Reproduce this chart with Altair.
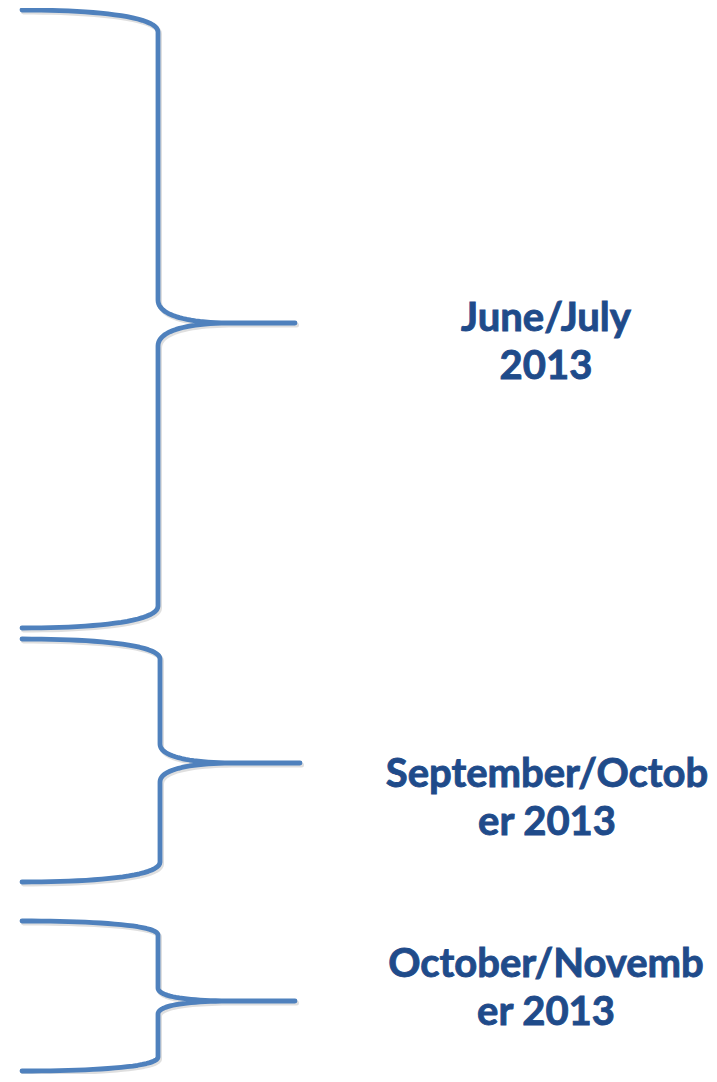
import altair as alt
import pandas as pd
import numpy as np

# Brace extents (image-pixel coordinate system of the reference)
brace_id = ["b1", "b2", "b3"]
brace_top = [10, 639, 921]
brace_tip = [323, 763, 1001]
brace_bottom = [628, 882, 1071]
end_bend = [22, 20, 14]
tip_bend = [23, 19, 13]
left_x = [22, 22, 22]
stem_x = [158, 160, 158]
tip_x = [295, 300, 295]

labels = ["June/July\n2013", "September/Octob\ner 2013", "October/Novemb\ner 2013"]
label_x = [546, 547, 546]
label_y = [331, 787, 977]

BLUE = "#4F81BD"
TEXT = "#1F4B8A"


def bez(p0, p1, p2, p3, n=24):
    t = np.linspace(0, 1, n)[:, None]
    p0, p1, p2, p3 = map(np.array, (p0, p1, p2, p3))
    return ((1 - t) ** 3) * p0 + 3 * ((1 - t) ** 2) * t * p1 + 3 * (1 - t) * t * t * p2 + t ** 3 * p3


rows = []
for i, b in enumerate(brace_id):
    L, S, T = left_x[i], stem_x[i], tip_x[i]
    top, tip, bot = brace_top[i], brace_tip[i], brace_bottom[i]
    eb, tb = end_bend[i], tip_bend[i]
    pts = []
    pts += list(bez((L, top), (L + 0.55 * (S - L), top), (S, top + 0.3 * eb), (S, top + eb)))
    pts += list(bez((S, tip - tb), (S, tip - 0.35 * tb), (S + 0.2 * (T - S), tip), (S + 0.55 * (T - S), tip)))
    pts.append((T, tip))
    pts += list(bez((S + 0.55 * (T - S), tip), (S + 0.2 * (T - S), tip), (S, tip + 0.35 * tb), (S, tip + tb)))
    pts += list(bez((S, bot - eb), (S, bot - 0.3 * eb), (L + 0.55 * (S - L), bot), (L, bot)))
    for k, (x, y) in enumerate(pts):
        rows.append({"brace": b, "order": k, "x": float(x), "y": float(y)})

df = pd.DataFrame(rows)
shadow = df.assign(x=df.x + 1.5, y=df.y + 2.0)
lab = pd.DataFrame({"label": labels, "x": label_x, "y": label_y})

xs = alt.Scale(domain=[8, 709], nice=False, zero=False)
ys = alt.Scale(domain=[8, 1074], nice=False, zero=False, reverse=True)

base_enc = dict(
    x=alt.X("x:Q", scale=xs, axis=None),
    y=alt.Y("y:Q", scale=ys, axis=None),
    detail="brace:N",
    order="order:Q",
)

shadow_layer = alt.Chart(shadow).mark_line(
    color="#7f7f7f", strokeWidth=5, opacity=0.25, strokeCap="round", strokeJoin="round"
).encode(**base_enc)

line_layer = alt.Chart(df).mark_line(
    color=BLUE, strokeWidth=4.8, strokeCap="round", strokeJoin="round"
).encode(**base_enc)

text_layer = alt.Chart(lab).mark_text(
    font="Lato", fontWeight="bold", fontSize=40, color=TEXT,
    stroke=TEXT, strokeWidth=0.9,
    align="center", baseline="alphabetic", lineBreak="\n", lineHeight=48
).encode(
    x=alt.X("x:Q", scale=xs, axis=None),
    y=alt.Y("y:Q", scale=ys, axis=None),
    text="label:N",
)

chart = alt.layer(shadow_layer, line_layer, text_layer).properties(
    width=701, height=1066, padding=0, autosize=alt.AutoSizeParams(type="none")
).configure_view(stroke=None)

chart.save("out.html", embed_options={"renderer": "svg", "actions": False})
